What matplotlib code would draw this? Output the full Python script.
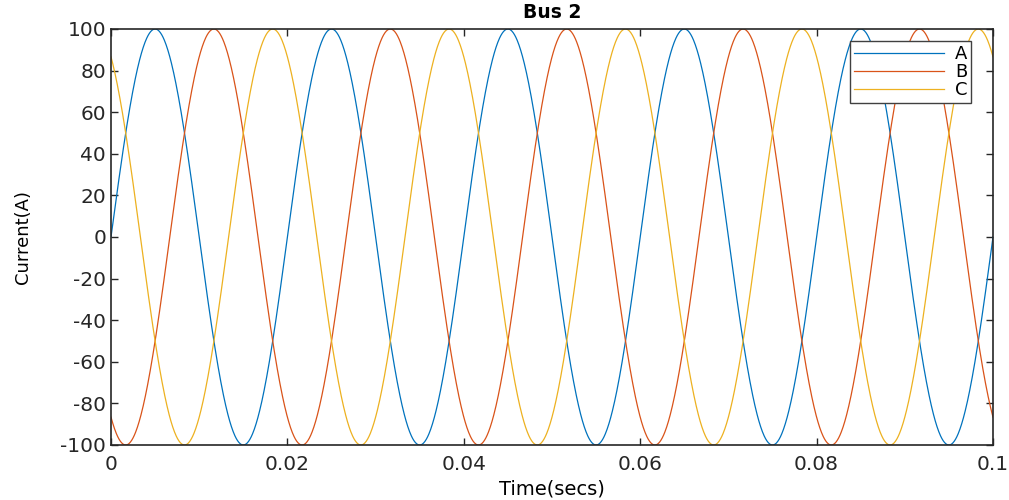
import numpy as np
import matplotlib.pyplot as plt

plt.rcParams['axes.unicode_minus'] = False

# three-phase current at bus 2
phases = ['A', 'B', 'C']
amplitude = 100.0          # A
freq = 50.0                # Hz
phase_deg = [0, -120, 120]
colors = ['#0072BD', '#D95319', '#EDB120']

t = np.linspace(0, 0.1, 2001)

fig = plt.figure(figsize=(10.09, 5), dpi=100)
ax = fig.add_axes([111/1009, 55/500, 882/1009, 416/500])

for name, ph, c in zip(phases, phase_deg, colors):
    i = amplitude * np.sin(2*np.pi*freq*t + np.deg2rad(ph))
    ax.plot(t, i, color=c, lw=0.9, label=name)

ax.set_xlim(0, 0.1)
ax.set_ylim(-100, 100)
ax.set_xticks([0, 0.02, 0.04, 0.06, 0.08, 0.1])
ax.set_xticklabels(['0', '0.02', '0.04', '0.06', '0.08', '0.1'])
ax.set_yticks(np.arange(-100, 101, 20))
ax.tick_params(direction='in', top=True, right=True, length=5, width=1,
               labelsize=14.5, colors='#262626')
ax.tick_params(axis='x', pad=7)
for s in ax.spines.values():
    s.set_linewidth(1.2)
    s.set_color('#262626')

ax.set_title('Bus 2', fontsize=13.5, fontweight='bold', pad=8)
ax.set_xlabel('Time(secs)', fontsize=14, labelpad=4)
ax.set_ylabel('Current(A)', fontsize=13, labelpad=20)

leg = ax.legend(loc='upper right', bbox_to_anchor=(0.975, 0.97), fontsize=13,
                handlelength=5.0, fancybox=False, framealpha=1,
                borderpad=0.2, labelspacing=0.0, borderaxespad=0,
                handletextpad=0.6)
leg.get_frame().set_edgecolor('#404040')
leg.get_frame().set_linewidth(1)

fig.savefig('out.png', dpi=100)
